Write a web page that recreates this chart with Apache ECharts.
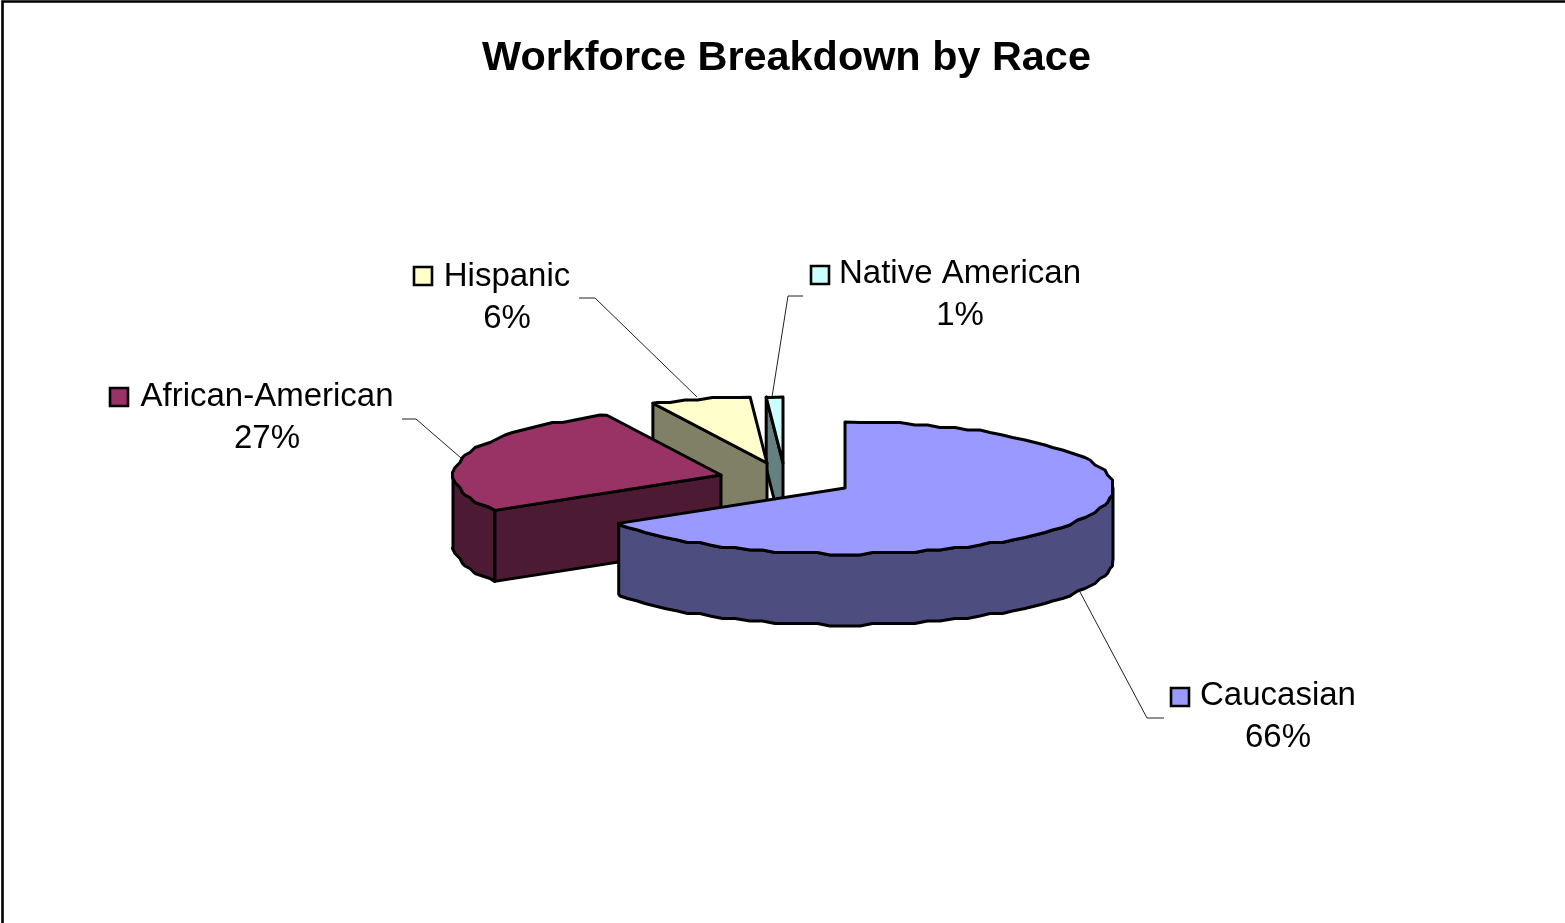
<!DOCTYPE html>
<html>
<head>
<meta charset="utf-8">
<style>html,body{margin:0;padding:0;background:#fff}#chart{width:1565px;height:923px}</style>
<script src="https://cdn.jsdelivr.net/npm/echarts@6/dist/echarts.min.js"></script>
</head>
<body>
<div id="chart"></div>
<script>
// Workforce share by race, percent of total
const categories = ['Caucasian', 'African-American', 'Hispanic', 'Native American'];
const shares = [66, 27, 6, 1];

// Face colours for each slice
const topColors = ['#9999FF', '#993366', '#FFFFCC', '#CCFFFF'];
const sideColors = ['#4D4D80', '#4D1A33', '#808066', '#668080'];

// Exploded slice apex positions on the page
const apexes = [[845, 488], [721, 475], [767, 463], [783, 463]];
// Label block: key square, text centre and leader polyline
const labelBoxes = [
  { key: [1171, 688], cx: 1278, y: 696, leader: [[1080, 592], [1147, 718], [1164, 718]] },
  { key: [110, 388], cx: 267, y: 397, leader: [[402, 419], [416, 419], [461, 458]] },
  { key: [414, 267], cx: 507, y: 277, leader: [[579, 298], [595, 298], [697, 397]] },
  { key: [811, 266], cx: 960, y: 274, leader: [[803, 296], [788, 296], [772, 397]] }
];

const RX = 268, RY = 66, DEPTH = 71, EDGE = 3;
const STEP_DEG = 3, SNAP = 2.5;
const FONT = '"Liberation Sans", Arial, sans-serif';

const total = shares.reduce((a, b) => a + b, 0);
const snap = v => Math.round(v / SNAP) * SNAP;

// Rim point of a slice at a clockwise angle from twelve o'clock
function rim(apex, deg) {
  const r = deg * Math.PI / 180;
  return [apex[0] + RX * Math.sin(r), apex[1] - RY * Math.cos(r)];
}

// Rim polyline; inner samples sit on a coarse grid for the faceted outline
function arc(apex, from, to) {
  const pts = [rim(apex, from)];
  for (let d = Math.ceil(from / STEP_DEG + 0.01) * STEP_DEG; d < to - 0.01; d += STEP_DEG) {
    const p = rim(apex, d);
    pts.push([snap(p[0]), snap(p[1])]);
  }
  pts.push(rim(apex, to));
  return pts;
}

const drop = pts => pts.map(p => [p[0], p[1] + DEPTH]);

function face(points, fill, z2) {
  return {
    type: 'polygon', z2, silent: true,
    shape: { points },
    style: { fill, stroke: '#000', lineWidth: EDGE, lineJoin: 'round' }
  };
}

function renderSlice(params, api) {
  const i = params.dataIndex;
  const value = api.value(0);
  const before = shares.slice(0, i).reduce((a, b) => a + b, 0);
  const a0 = before / total * 360;
  const a1 = (before + value) / total * 360;
  const apex = apexes[i];
  const side = sideColors[i];
  const base = (4 - i) * 10;
  const kids = [];

  // Cut face on the starting radius, when it turns toward the viewer
  if (Math.sin(a0 * Math.PI / 180) < -1e-6) {
    const edge = [apex, rim(apex, a0)];
    kids.push(face(edge.concat(drop(edge).reverse()), side, base));
  }
  // Cut face on the closing radius
  if (Math.sin(a1 * Math.PI / 180) > 1e-6) {
    const edge = [apex, rim(apex, a1)];
    kids.push(face(edge.concat(drop(edge).reverse()), side, base));
  }
  // Curved wall along the front half of the rim
  const f0 = Math.max(a0, 90), f1 = Math.min(a1, 270);
  if (f1 > f0) {
    const top = arc(apex, f0, f1);
    kids.push(face(top.concat(drop(top).reverse()), side, base + 1));
  }
  // Top surface
  kids.push(face([apex].concat(arc(apex, a0, a1)), topColors[i], base + 2));

  // Leader line, key square and two-line label
  const box = labelBoxes[i];
  kids.push({
    type: 'polyline', z2: 100, silent: true,
    shape: { points: box.leader },
    style: { fill: null, stroke: '#222', lineWidth: 1 }
  });
  kids.push({
    type: 'rect', z2: 100, silent: true,
    shape: { x: box.key[0], y: box.key[1], width: 18, height: 18 },
    style: { fill: topColors[i], stroke: '#000', lineWidth: 2.6 }
  });
  kids.push({
    type: 'text', z2: 100, silent: true,
    style: {
      x: box.cx, y: box.y, text: categories[i], fill: '#000',
      font: '33px ' + FONT, align: 'center', verticalAlign: 'middle'
    }
  });
  kids.push({
    type: 'text', z2: 100, silent: true,
    style: {
      x: box.cx, y: box.y + 42, text: value + '%', fill: '#000',
      font: '33px ' + FONT, align: 'center', verticalAlign: 'middle'
    }
  });
  return { type: 'group', children: kids };
}

const chart = echarts.init(document.getElementById('chart'), null, { renderer: 'canvas' });
chart.setOption({
  animation: false,
  backgroundColor: '#fff',
  title: {
    text: 'Workforce Breakdown by Race',
    left: 781.5, top: 54, textAlign: 'center', textVerticalAlign: 'middle',
    textStyle: { fontFamily: FONT, fontSize: 41.4, fontWeight: 'bold', color: '#000' }
  },
  graphic: [{
    type: 'polyline', silent: true,
    shape: { points: [[2.5, 923], [2.5, 1.5], [1565, 1.5]] },
    style: { fill: null, stroke: '#000', lineWidth: 2.6 }
  }],
  series: [{
    type: 'custom',
    coordinateSystem: 'none',
    silent: true,
    renderItem: renderSlice,
    data: shares.map(v => [v])
  }]
});
</script>
</body>
</html>
